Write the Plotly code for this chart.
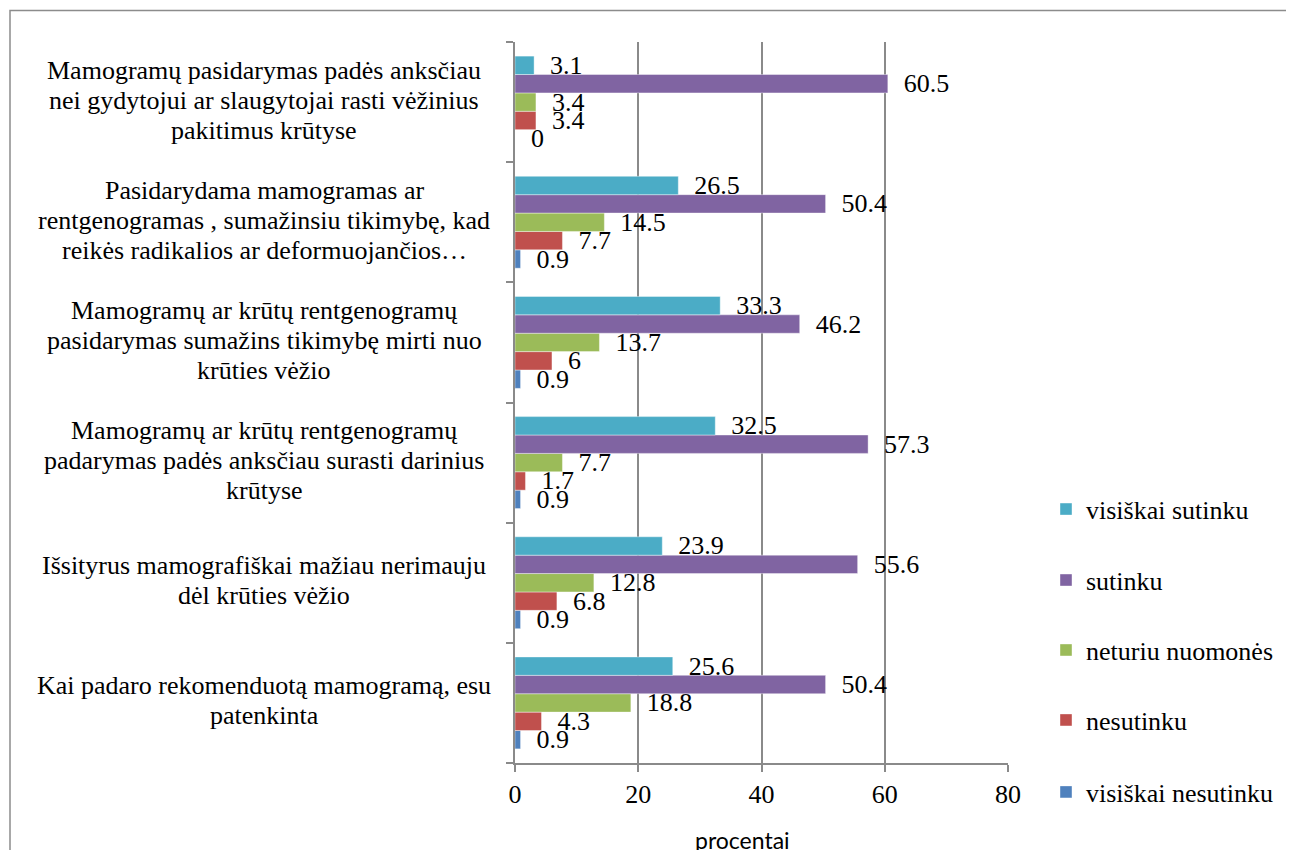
import plotly.graph_objects as go

categories = [
    "Kai padaro rekomenduotą mamogramą, esu patenkinta",
    "Išsityrus mamografiškai mažiau nerimauju dėl krūties vėžio",
    "Mamogramų ar krūtų rentgenogramų padarymas padės anksčiau surasti darinius krūtyse",
    "Mamogramų ar krūtų rentgenogramų pasidarymas sumažins tikimybę mirti nuo krūties vėžio",
    "Pasidarydama mamogramas ar rentgenogramas , sumažinsiu tikimybę, kad reikės radikalios ar deformuojančios…",
    "Mamogramų pasidarymas padės anksčiau nei gydytojui ar slaugytojai rasti vėžinius pakitimus krūtyse",
]
category_lines = [
    ["Kai padaro rekomenduotą mamogramą, esu", "patenkinta"],
    ["Išsityrus mamografiškai mažiau nerimauju", "dėl krūties vėžio"],
    ["Mamogramų ar krūtų rentgenogramų", "padarymas padės anksčiau surasti darinius", "krūtyse"],
    ["Mamogramų ar krūtų rentgenogramų", "pasidarymas sumažins tikimybę mirti nuo", "krūties vėžio"],
    ["Pasidarydama mamogramas ar", "rentgenogramas , sumažinsiu tikimybę, kad", "reikės radikalios ar deformuojančios…"],
    ["Mamogramų pasidarymas padės anksčiau", "nei gydytojui ar slaugytojai rasti vėžinius", "pakitimus krūtyse"],
]

series_names = ["visiškai nesutinku", "nesutinku", "neturiu nuomonės", "sutinku", "visiškai sutinku"]
visiskai_nesutinku = [0.9, 0.9, 0.9, 0.9, 0.9, 0]
nesutinku = [4.3, 6.8, 1.7, 6, 7.7, 3.4]
neturiu_nuomones = [18.8, 12.8, 7.7, 13.7, 14.5, 3.4]
sutinku = [50.4, 55.6, 57.3, 46.2, 50.4, 60.5]
visiskai_sutinku = [25.6, 23.9, 32.5, 33.3, 26.5, 3.1]
series_values = [visiskai_nesutinku, nesutinku, neturiu_nuomones, sutinku, visiskai_sutinku]
colors = ["#4F81BD", "#C0504D", "#9BBB59", "#8064A2", "#4BACC6"]

x_ticks = [0, 20, 40, 60, 80]
x_title = "procentai"

SERIF = "Liberation Serif, Times New Roman, serif"
GRID = "#8A8A8A"

# page geometry (screen pixels); the page body adds an 8px offset
OFF = 8
PLOT_L, PLOT_R, PLOT_T, PLOT_B = 515, 1008, 41.5, 763
W, H = 1294, 850


def px_x(sx):
    return (sx - PLOT_L) / (PLOT_R - PLOT_L)


def px_y(sy):
    return (PLOT_B - sy) / (PLOT_B - PLOT_T)


fig = go.Figure()
legend_rows = [792, 720, 650, 580, 509]
for i, (name, vals, col) in enumerate(zip(series_names, series_values, colors)):
    fig.add_trace(go.Bar(
        y=categories, x=vals, name=name, orientation="h",
        marker=dict(color=col, line=dict(width=1, color="rgba(255,255,255,0.4)")),
        text=[f"{v:g}" for v in vals],
        texttemplate="  %{text}",
        textposition="outside",
        constraintext="none",
        textfont=dict(family=SERIF, size=26, color="black"),
        cliponaxis=False,
        legend="legend" if i == 0 else f"legend{i + 1}",
    ))

LINE_H = 30
for cat, lines in zip(categories, category_lines):
    n = len(lines)
    for j, ln in enumerate(lines):
        off = (j - (n - 1) / 2) * LINE_H
        fig.add_annotation(
            x=px_x(264), xref="paper", y=cat, yref="y",
            text=ln, showarrow=False, xanchor="center", yanchor="middle",
            yshift=-off + 2,
            font=dict(family=SERIF, size=26, color="black"),
        )

fig.add_annotation(
    x=px_x(742), xref="paper", y=px_y(840), yref="paper",
    text=x_title, showarrow=False, xanchor="center", yanchor="middle",
    font=dict(family="Lato", size=23, color="black"),
)

# outer chart border (left and top)
bx, by = px_x(10), px_y(10)
fig.add_shape(type="path", xref="paper", yref="paper",
              path=f"M {bx} {px_y(900)} L {bx} {by} L {px_x(1400)} {by}",
              line=dict(color="#8C8C8C", width=1.5))

legends = {}
for i, sy in enumerate(legend_rows):
    key = "legend" if i == 0 else f"legend{i + 1}"
    legends[key] = dict(
        x=px_x(1046), y=px_y(sy), xanchor="left", yanchor="middle",
        font=dict(family=SERIF, size=26, color="black"),
        itemwidth=30, bgcolor="rgba(0,0,0,0)",
    )

fig.update_layout(
    width=W, height=H,
    margin=dict(l=PLOT_L - OFF, r=W - (PLOT_R - OFF), t=PLOT_T - OFF, b=H - (PLOT_B - OFF), autoexpand=False),
    paper_bgcolor="white", plot_bgcolor="white",
    barmode="group", bargap=0.235, bargroupgap=0,
    showlegend=True,
    **legends,
    xaxis=dict(
        range=[0, 80], tickvals=x_ticks, ticktext=[str(t) for t in x_ticks],
        showgrid=True, gridcolor=GRID, gridwidth=1.5,
        showline=True, linecolor=GRID, linewidth=1.5,
        ticks="outside", ticklen=7, tickcolor=GRID, tickwidth=1.5,
        tickfont=dict(family=SERIF, size=26, color="black"),
        ticklabelstandoff=0,
        zeroline=False, automargin=False,
    ),
    yaxis=dict(
        categoryorder="array", categoryarray=categories,
        showticklabels=False, showline=True, linecolor=GRID, linewidth=1.5,
        ticks="outside", ticklen=7, tickcolor=GRID, tickwidth=1.5, tickson="boundaries",
        showgrid=False, zeroline=False, automargin=False,
    ),
)

fig.write_html("out.html")
